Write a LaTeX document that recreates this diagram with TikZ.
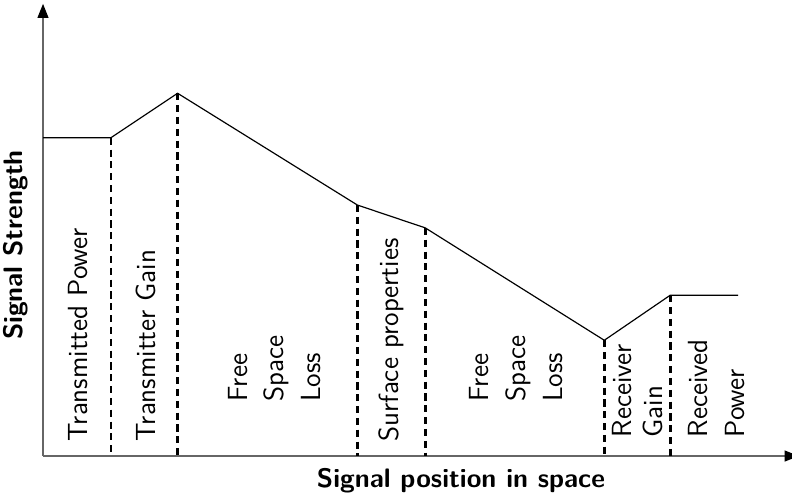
\documentclass[tikz,border=0pt]{standalone}
\usetikzlibrary{arrows.meta}

\begin{document}
\begin{tikzpicture}
  [font=\sffamily\fontsize{11.7}{15.6}\selectfont]
  \tikzstyle{axis} = [draw=black!60, line width=0.75pt, -{Triangle[length=2.1mm, width=1.6mm, color=black]}];
  \tikzstyle{signal_line} = [draw=black, line width=0.5pt];
  \tikzstyle{bound_line}  = [draw=black, line width=1.1pt, dash pattern=on 3pt off 2pt];
  \tikzstyle{stage_label} = [rotate=90, anchor=west, inner sep=0pt, align=left];
  \tikzstyle{axis_label}  = [font=\sffamily\bfseries\fontsize{11.3}{13.6}\selectfont];

  \useasboundingbox (-0.639, -0.609) rectangle (11.129, 6.776);

  % axes
  \coordinate (o) at (0, 0);
  \coordinate (xend) at (11.23, 0);
  \coordinate (yend) at (0, 6.72);
  \draw[axis] (o) -- (xend);
  \draw[axis] (o) -- (yend);

  % signal level along the path
  \coordinate (p0) at (0, 4.73);
  \coordinate (p1) at (1.01, 4.73);
  \coordinate (p2) at (2.0, 5.39);
  \coordinate (p3) at (4.67, 3.73);
  \coordinate (p4) at (5.68, 3.39);
  \coordinate (p5) at (8.34, 1.72);
  \coordinate (p6) at (9.32, 2.39);
  \coordinate (p7) at (10.33, 2.39);
  \draw[signal_line] (p0) -- (p1) -- (p2) -- (p3) -- (p4) -- (p5) -- (p6) -- (p7);

  % stage boundaries
  \foreach \p in {p1, p2, p3, p4, p5, p6}
    \draw[bound_line] (\p) -- (\p |- o);

  \node[stage_label] (tx_power) at (0.52, 0.21) {Transmitted Power};
  \node[stage_label] (tx_gain)  at (1.53, 0.21) {Transmitter Gain};
  \node[stage_label] (fsl_a)    at (3.44, 0.80) {Free\\Space\\Loss};
  \node[stage_label] (surface)  at (5.17, 0.21) {Surface properties};
  \node[stage_label] (fsl_b)    at (7.03, 0.80) {Free\\Space\\Loss};
  \node[stage_label] (rx_gain)  at (8.83, 0.27) {Receiver\\[-2.5pt]Gain};
  \node[stage_label] (rx_power) at (10.01, 0.27) {Received\\Power};

  \node[axis_label, rotate=90] (ylabel) at (-0.40, 3.135) {Signal Strength};
  \node[axis_label] (xlabel) at (6.21, -0.36) {Signal position in space};

\end{tikzpicture}
\end{document}
